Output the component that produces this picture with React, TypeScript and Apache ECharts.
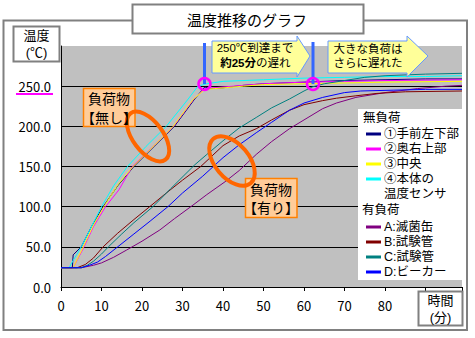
import React, { useEffect, useRef } from "react";
import * as echarts from "echarts";

// ---- data (minutes, °C) ----
const noLoadNames = ["①手前左下部", "②奥右上部", "③中央", "④本体の\n温度センサ"];
const loadNames = ["A:滅菌缶", "B:試験管", "C:試験管", "D:ビーカー"];
const noLoadColors = ["#000080", "#FF00FF", "#FFFF00", "#00FFFF"];
const loadColors = ["#800080", "#800000", "#008080", "#0000FF"];

const navyData = [[0,24],[2.8,24],[3,40],[5,50],[7.5,75],[10.4,100],[14,126],[18,150],[23,175],[28,200],[33,234],[35.5,249],[37,247],[40,248],[45,251],[50,253],[60,255],[70,257],[80,258],[90,259],[99,259]];
const magentaData = [[0,24],[3,24],[5.5,48],[8,75],[11,100],[14.3,121],[17.6,150],[23,176],[27.8,200],[32.8,234],[35.5,247],[40,249],[45,251],[50,253],[60,255],[70,256],[80,257],[99,258]];
const yellowData = [[0,24],[3,24],[5.5,50],[8,77],[10.6,100],[14,127],[17.8,150],[23,176],[27.7,200],[32.7,234],[35.5,246],[38,247],[45,250],[50,252],[60,253],[70,254],[80,255],[99,256]];
const cyanData = [[0,24],[2,24],[3,33],[5,50],[7,70],[10,100],[13,126],[16.4,150],[21,175],[26,200],[31.4,234],[33.8,250],[36,253],[40,256],[50,258],[60,260],[70,261],[80,262],[90,262],[99,263]];

const purpleData = [[0,24],[5,24],[8,27],[10,30],[13,37],[16.2,46],[20,57],[24.4,71],[28,85],[32.6,102],[36,115],[40.5,131],[44,145],[48.2,165],[52,181],[56.4,197],[60,208],[64.6,222],[68,229],[72.8,236],[80,242],[88,247],[95,250],[99,251]];
const redData = [[0,24],[4,24],[6,28],[8,36],[10.4,50],[14,67],[18,84],[21.9,100],[26,117],[30,133],[34.5,150],[40,176],[44,188],[48.2,197],[52,208],[56.4,220],[60,227],[64.6,232],[68,235],[72.8,238],[78,241],[85,243],[99,244]];
const tealData = [[0,24],[5,24],[6.5,27],[8,32],[10,41],[11.7,50],[15,66],[18,80],[22.7,100],[27,122],[33,152],[36,165],[40,182],[44,198],[48.2,211],[52,223],[56.4,234],[60,244],[62,249],[65,253],[70,257],[75,261],[80,263],[90,265],[99,266]];
const blueData = [[0,24],[5,24],[7,27],[9,31],[11,38],[14,50],[18,66],[22,82],[26.4,100],[30,117],[35,138],[40,161],[44,177],[48.2,192],[52,205],[56.4,220],[60,229],[64.6,236],[70,242],[74,244],[82,245],[90,246],[99,246]];

const noLoadSeries = [navyData, magentaData, yellowData, cyanData];
const loadSeries = [purpleData, redData, tealData, blueData];

const FONT = "'Noto Sans CJK JP', 'Noto Sans', sans-serif";
const FONT_TIGHT = "'Liberation Sans', 'Noto Sans CJK JP', sans-serif";

export default function App() {
  const ref = useRef<HTMLDivElement>(null);
  useEffect(() => {
    if (!ref.current) return;
    const chart = echarts.init(ref.current, undefined, { renderer: "svg" });

    const series: any[] = [];
    noLoadSeries.forEach((d, i) =>
      series.push({ type: "line", name: noLoadNames[i], data: d, showSymbol: false, lineStyle: { width: 1, color: noLoadColors[i] }, itemStyle: { color: noLoadColors[i] } })
    );
    loadSeries.forEach((d, i) =>
      series.push({ type: "line", name: loadNames[i], data: d, showSymbol: false, lineStyle: { width: 1, color: loadColors[i] }, itemStyle: { color: loadColors[i] } })
    );

    const txt = (x: number, y: number, text: string, size: number, extra: any = {}) => ({
      type: "text", x, y, z: 110,
      style: { text, fontSize: size, fontFamily: FONT, fill: "#000", align: "center", verticalAlign: "middle", ...extra },
    });
    const box = (x: number, y: number, w: number, h: number, fill = "#fff", stroke = "#808080", lw = 2) => ({
      type: "rect", z: 105, shape: { x, y, width: w, height: h }, style: { fill, stroke, lineWidth: lw },
    });
    const arrow = (x1: number, x2: number, tip: number) => ({
      type: "polygon", z: 105,
      shape: { points: [[x1, 41], [x2, 41], [x2, 36], [tip, 56], [x2, 77], [x2, 73], [x1, 73]] },
      style: { fill: "#FFFF99", stroke: "#6699FF", lineWidth: 1 },
    });
    const ellipse = (cx: number, cy: number, rx: number, ry: number, deg: number) => ({
      type: "group", x: cx, y: cy, rotation: (deg * Math.PI) / 180, z: 108,
      children: [{ type: "ellipse", z: 108, shape: { cx: 0, cy: 0, rx, ry }, style: { fill: "none", stroke: "#FF6600", lineWidth: 4 } }],
    });

    const LF = 12.5;
    const lt = { align: "left", fontFamily: FONT_TIGHT };
    const legendItems: any[] = [];
    legendItems.push({ type: "rect", z: 102, shape: { x: 358, y: 109, width: 104, height: 171 }, style: { fill: "#fff" } });
    legendItems.push(txt(363, 118, "無負荷", LF, lt));
    const noLoadY = [134, 149, 164, 179];
    noLoadNames.forEach((n, i) => {
      legendItems.push({ type: "line", z: 110, shape: { x1: 366, y1: noLoadY[i], x2: 381, y2: noLoadY[i] }, style: { stroke: noLoadColors[i], lineWidth: 3 } });
      const lines = n.split("\n");
      lines.forEach((ln, j) => legendItems.push(txt(384, noLoadY[i] + j * 15, ln, LF, lt)));
    });
    legendItems.push(txt(362, 210, "有負荷", LF, lt));
    const loadY = [227, 242, 257, 272];
    loadNames.forEach((n, i) => {
      legendItems.push({ type: "line", z: 110, shape: { x1: 366, y1: loadY[i], x2: 381, y2: loadY[i] }, style: { stroke: loadColors[i], lineWidth: 3 } });
      legendItems.push(txt(384, loadY[i], n, LF, lt));
    });

    const ct = { fontFamily: FONT_TIGHT };

    const option: any = {
      animation: false,
      backgroundColor: "#fff",
      textStyle: { fontFamily: FONT },
      grid: { left: 61, top: 46, right: 13, bottom: 51, show: true, backgroundColor: "#C0C0C0", borderWidth: 0 },
      xAxis: {
        type: "value", min: 0, max: 99, interval: 10,
        axisLine: { show: true, lineStyle: { color: "#000", width: 1 } },
        axisTick: { show: true, length: 4, lineStyle: { color: "#000" } },
        axisLabel: { color: "#000", fontSize: 13, margin: 12, fontFamily: FONT, formatter: (v: number) => (v <= 80 && v % 10 === 0 ? String(v) : "") },
        splitLine: { show: false },
      },
      yAxis: {
        type: "value", min: 0, max: 300, interval: 50,
        axisLine: { show: true, lineStyle: { color: "#000", width: 1 } },
        axisTick: { show: false },
        axisLabel: { color: "#000", fontSize: 13, margin: 10, fontFamily: FONT, formatter: (v: number) => (v >= 300 ? "" : v.toFixed(1)) },
        splitLine: { show: true, showMaxLine: false, lineStyle: { color: "#000", width: 1 } },
      },
      series,
      graphic: [
        { type: "rect", z: 100, shape: { x: 3.5, y: 20.5, width: 463.5, height: 309.5 }, style: { fill: "none", stroke: "#808080", lineWidth: 2 } },
        box(132.5, 4.5, 231, 29),
        txt(247, 19, "温度推移のグラフ", 15),
        box(13.5, 26.5, 46, 35),
        txt(36.5, 35.5, "温度", 13, ct),
        txt(36.5, 52, "(℃)", 13, ct),
        box(418.5, 291.5, 44, 34),
        txt(440.5, 300.5, "時間", 13, ct),
        txt(440.5, 317, "(分)", 13, ct),
        { type: "line", z: 110, shape: { x1: 16, y1: 94, x2: 53, y2: 94 }, style: { stroke: "#FF00FF", lineWidth: 2 } },
        ...legendItems,
        ellipse(148, 136.5, 15, 29, 37),
        ellipse(232, 161, 17, 29, 40),
        box(83.5, 88.5, 51.5, 38, "#FFCC99", "#FF8000", 1.5),
        txt(109, 99, "負荷物", 14, ct),
        txt(109, 117.5, "【無し】", 14, ct),
        box(245.5, 178.5, 51.5, 39, "#FFCC99", "#FF8000", 1.5),
        txt(271, 189.5, "負荷物", 14, ct),
        txt(271, 208, "【有り】", 14, ct),
        arrow(212, 297, 310),
        txt(255, 48, "250℃到達まで", 11.5, ct),
        txt(256, 63, "約25分", 11.5, { ...ct, align: "right", fontWeight: "bold" }),
        txt(256, 63, "の遅れ", 11.5, { ...ct, align: "left" }),
        arrow(328, 407, 428),
        txt(368, 49, "大きな負荷は", 11.5, ct),
        txt(368, 63, "さらに遅れた", 11.5, ct),
        { type: "line", z: 112, shape: { x1: 204.5, y1: 43, x2: 204.5, y2: 84 }, style: { stroke: "#3366FF", lineWidth: 3 } },
        { type: "line", z: 112, shape: { x1: 313, y1: 42, x2: 313, y2: 84 }, style: { stroke: "#3366FF", lineWidth: 3 } },
        { type: "circle", z: 113, shape: { cx: 204.5, cy: 84, r: 6 }, style: { fill: "none", stroke: "#FF00FF", lineWidth: 2.5 } },
        { type: "circle", z: 113, shape: { cx: 313, cy: 84, r: 6 }, style: { fill: "none", stroke: "#FF00FF", lineWidth: 2.5 } },
      ],
    };
    chart.setOption(option);
    return () => chart.dispose();
  }, []);
  return <div ref={ref} style={{ position: "fixed", left: 0, top: 0, width: 475, height: 338 }} />;
}
